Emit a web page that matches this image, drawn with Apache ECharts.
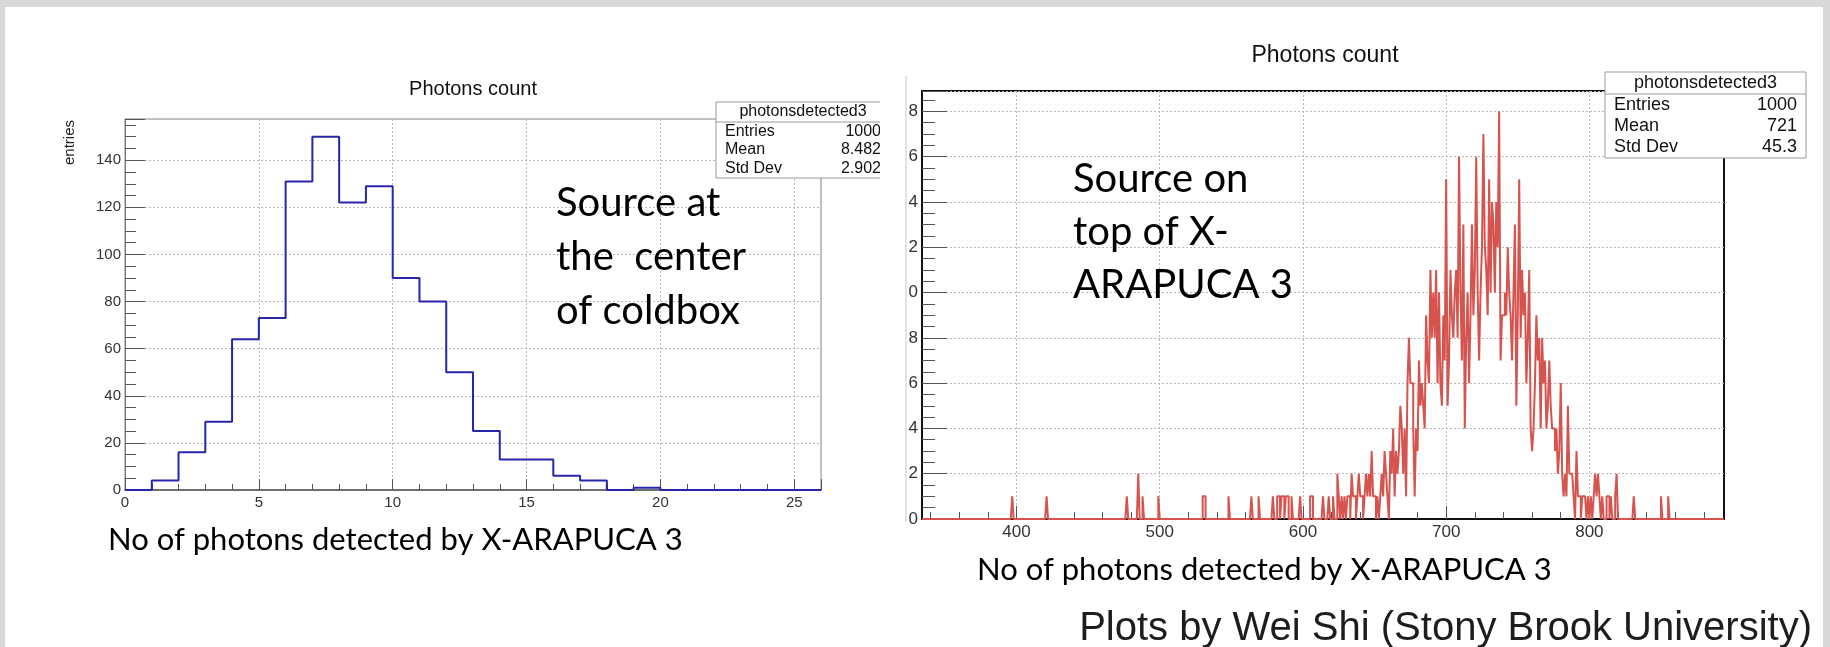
<!DOCTYPE html>
<html>
<head>
<meta charset="utf-8">
<title>Photons count</title>
<script src="https://cdn.jsdelivr.net/npm/echarts@6.0.0/dist/echarts.min.js"></script>
<style>
  html, body { margin: 0; padding: 0; background: #fff; }
  #chart { width: 1830px; height: 647px; }
</style>
</head>
<body>
<div id="chart"></div>
<script>
// left plot: source at the centre of the coldbox, bins of width 1 from 0 to 26
const leftStart = 0;
const leftCounts = [0, 4, 16, 29, 64, 73, 131, 150, 122, 129, 90, 80, 50, 25, 13, 13, 6, 4, 0, 1, 0, 0, 0, 0, 0, 0];
const leftStats = [["Entries", "1000"], ["Mean", "8.482"], ["Std Dev", "2.902"]];

// right plot: source on top of X-ARAPUCA 3, bins of width 1 from 334 to 894
const rightStart = 334;
const rightBins = 560;
const rightCoreStart = 619;
const rightCoreCounts = [
  0, 0, 1, 0, 0, 2, 1, 0, 1, 0,
  1, 0, 1, 1, 0, 2, 1, 1, 0, 1,
  2, 1, 1, 0, 1, 2, 1, 2, 1, 3,
  1, 1, 0, 1, 0, 1, 2, 1, 3, 2,
  1, 0, 3, 2, 4, 1, 3, 2, 3, 5,
  4, 2, 4, 1, 6, 8, 6, 6, 4, 1,
  4, 3, 7, 5, 6, 5, 4, 9, 7, 6,
  11, 8, 10, 8, 11, 6, 10, 6, 5, 9,
  7, 15, 5, 7, 11, 9, 8, 10, 11, 8,
  16, 10, 7, 13, 4, 8, 10, 6, 9, 13,
  9, 11, 16, 10, 7, 10, 12, 17, 12, 11,
  9, 15, 10, 14, 13, 10, 14, 12, 18, 7,
  9, 9, 10, 9, 12, 10, 9, 7, 10, 13,
  5, 9, 15, 8, 11, 9, 10, 6, 8, 11,
  4, 3, 4, 6, 9, 7, 8, 4, 8, 6,
  7, 4, 5, 7, 5, 4, 4, 3, 4, 2,
  3, 6, 2, 1, 2, 1, 5, 2, 2, 2,
  1, 0, 3, 1, 1, 0, 1, 1, 1, 0,
  1, 0, 1, 0, 1, 2, 1, 2, 1, 0,
  1, 0, 0, 1, 1, 0, 1, 0, 0, 1,
  2
];
const rightTailBins = [397, 421, 477, 485, 488, 499, 530, 531, 548, 564, 569, 579, 582, 583, 585, 586, 588, 589, 592, 598, 605, 606, 614, 618, 831, 850, 855];
const rightTailCounts = [1, 1, 1, 2, 1, 1, 1, 1, 1, 1, 1, 1, 1, 1, 1, 1, 1, 1, 1, 1, 1, 1, 1, 1, 1, 1, 1];
const rightStats = [["Entries", "1000"], ["Mean", "721"], ["Std Dev", "45.3"]];

// tick ranges of the right x axis (the axis itself starts at 334)
const rightMinorRange = [340, 880];
const rightMajorRange = [400, 800];

const rootFont = "'Liberation Sans', Arial, sans-serif";
const noteFont = "Lato, 'Open Sans', sans-serif";

// full list of bin contents for the right histogram
const rightCounts = new Array(rightBins).fill(0);
rightCoreCounts.forEach((c, i) => { rightCounts[rightCoreStart - rightStart + i] = c; });
rightTailBins.forEach((b, i) => { rightCounts[b - rightStart] = rightTailCounts[i]; });

// ROOT style outline: one point per left bin edge, plus the closing right edge
function stepData(start, counts) {
  const pts = counts.map((c, i) => [start + i, c]);
  pts.push([start + counts.length, counts[counts.length - 1]]);
  return pts;
}

// right frame in pixels
const rLeft = 922, rTop = 91, rWidth = 802, rHeight = 428;
const rScale = rWidth / rightBins;
// a helper grid whose axis covers [a, b] exactly where the main axis has it
function subGrid(range) {
  return { left: rLeft + (range[0] - rightStart) * rScale, top: rTop, width: (range[1] - range[0]) * rScale, height: rHeight, show: false };
}

function statBox(x, y, w, h, headH, size, rows) {
  const els = [
    { type: "rect", shape: { x: x, y: y, width: w, height: h }, style: { fill: "#fff", stroke: "#999", lineWidth: 1 }, z: 50 },
    { type: "line", shape: { x1: x, y1: y + headH, x2: x + w, y2: y + headH }, style: { stroke: "#999", lineWidth: 1 }, z: 51 },
    { type: "text", x: x + w / 2, y: y + headH / 2, z: 52,
      style: { text: "photonsdetected3", font: size + "px " + rootFont, fill: "#111", align: "center", verticalAlign: "middle" } }
  ];
  const rowH = (h - headH) / rows.length;
  rows.forEach((r, i) => {
    const cy = y + headH + rowH * (i + 0.5);
    els.push({ type: "text", x: x + 9, y: cy, z: 52,
      style: { text: r[0], font: size + "px " + rootFont, fill: "#111", align: "left", verticalAlign: "middle" } });
    els.push({ type: "text", x: x + w - 9, y: cy, z: 52,
      style: { text: r[1], font: size + "px " + rootFont, fill: "#111", align: "right", verticalAlign: "middle" } });
  });
  return els;
}

function note(x, y, lines, size, gap) {
  return lines.map((t, i) => ({
    type: "text", x: x, y: y + i * gap, z: 40,
    style: { text: t, font: size + "px " + noteFont, fill: "#000", align: "left", verticalAlign: "middle" }
  }));
}

let myChart = echarts.init(document.getElementById("chart"));

const tickColor = "#555";
const gridLine = { show: true, lineStyle: { type: [2, 2], color: "#b8b8b8", width: 1 } };
const off = { show: false };

myChart.setOption({
  animation: false,
  backgroundColor: "#fff",
  grid: [
    { left: 125, top: 119, width: 696, height: 371, show: true, borderColor: "#888", borderWidth: 1 },
    { left: rLeft, top: rTop, width: rWidth, height: rHeight, show: true, borderColor: "#111", borderWidth: 2 },
    subGrid(rightMinorRange),
    subGrid(rightMajorRange)
  ],
  xAxis: [
    {
      type: "value", gridIndex: 0, min: 0, max: 26, interval: 5,
      axisLine: { show: true, onZero: false, lineStyle: { color: "#555", width: 1.5 } },
      axisTick: { show: true, inside: true, length: 11, lineStyle: { color: tickColor } },
      minorTick: { show: true, splitNumber: 5, length: 6, lineStyle: { color: tickColor } },
      axisLabel: { fontSize: 15, fontFamily: rootFont, color: "#333", margin: 5, showMaxLabel: false },
      splitLine: gridLine
    },
    {
      type: "value", gridIndex: 1, min: rightStart, max: rightStart + rightBins,
      axisLine: { show: true, onZero: false, lineStyle: { color: "#111", width: 2 } },
      axisTick: off, minorTick: off, axisLabel: off, splitLine: off
    },
    {
      type: "value", gridIndex: 2, min: rightMinorRange[0], max: rightMinorRange[1], interval: 20,
      axisLine: off,
      axisTick: { show: true, inside: true, length: 7, lineStyle: { color: tickColor } },
      axisLabel: off, splitLine: off
    },
    {
      type: "value", gridIndex: 3, min: rightMajorRange[0], max: rightMajorRange[1], interval: 100,
      axisLine: off,
      axisTick: { show: true, inside: true, length: 13, lineStyle: { color: tickColor } },
      axisLabel: { fontSize: 17, fontFamily: rootFont, color: "#333", margin: 5 },
      splitLine: gridLine
    }
  ],
  yAxis: [
    {
      type: "value", gridIndex: 0, min: 0, max: 157.5, interval: 20,
      axisLine: { show: true, lineStyle: { color: "#777" } },
      axisTick: { show: true, inside: true, length: 20, lineStyle: { color: tickColor } },
      minorTick: { show: true, splitNumber: 4, length: 11, lineStyle: { color: tickColor } },
      axisLabel: { fontSize: 15, fontFamily: rootFont, color: "#333", margin: 4, showMaxLabel: false },
      splitLine: gridLine
    },
    {
      type: "value", gridIndex: 1, min: 0, max: 18.9, interval: 2,
      axisLine: { show: true, lineStyle: { color: "#111", width: 2 } },
      axisTick: { show: true, inside: true, length: 25, lineStyle: { color: tickColor } },
      minorTick: { show: true, splitNumber: 4, length: 13, lineStyle: { color: tickColor } },
      axisLabel: {
        fontSize: 17, fontFamily: rootFont, color: "#333", margin: 4, showMaxLabel: false,
        // the screenshot cuts off the tens digit of these labels
        formatter: (v) => String(Math.round(v) % 10)
      },
      splitLine: gridLine
    },
    { type: "value", gridIndex: 2, min: 0, max: 1, show: false },
    { type: "value", gridIndex: 3, min: 0, max: 1, show: false }
  ],
  series: [
    {
      type: "line", xAxisIndex: 0, yAxisIndex: 0, step: "end",
      data: stepData(leftStart, leftCounts),
      symbol: "none", lineStyle: { color: "#2626ac", width: 2 }
    },
    {
      type: "line", xAxisIndex: 1, yAxisIndex: 1, step: "end",
      data: stepData(rightStart, rightCounts),
      symbol: "none", lineStyle: { color: "#d6534e", width: 2 }
    }
  ],
  graphic: [
    // grey margins of the slide
    { type: "rect", shape: { x: 0, y: 0, width: 1830, height: 7 }, style: { fill: "#d9d9d9" }, z: 60 },
    { type: "rect", shape: { x: 0, y: 0, width: 5, height: 647 }, style: { fill: "#d9d9d9" }, z: 60 },
    { type: "rect", shape: { x: 1823, y: 0, width: 7, height: 647 }, style: { fill: "#d9d9d9" }, z: 60 },
    // edge of the pasted right-hand screenshot
    { type: "line", shape: { x1: 906, y1: 76, x2: 906, y2: 522 }, style: { stroke: "#c8c8c8", lineWidth: 1 }, z: 60 },
    { type: "rect", shape: { x: 880, y: 90, width: 26, height: 440 }, style: { fill: "#fff" }, z: 59 },

    { type: "text", x: 473, y: 89, style: { text: "Photons count", font: "20px " + rootFont, fill: "#111", align: "center", verticalAlign: "middle" } },
    { type: "text", x: 1325, y: 56, style: { text: "Photons count", font: "23px " + rootFont, fill: "#111", align: "center", verticalAlign: "middle" } },
    { type: "text", x: 70, y: 120, rotation: Math.PI / 2,
      style: { text: "entries", font: "15px " + rootFont, fill: "#222", align: "right", verticalAlign: "middle" } },

    ...statBox(716, 102, 174, 76, 20, 16, leftStats),
    ...statBox(1605, 72, 201, 86, 22, 18, rightStats),

    ...note(556, 203, ["Source at", "the  center", "of coldbox"], 40, 54),
    ...note(1073, 179, ["Source on", "top of X-", "ARAPUCA 3"], 40, 53),

    { type: "text", x: 108, y: 540, style: { text: "No of photons detected by X-ARAPUCA 3", font: "31px " + noteFont, fill: "#000", align: "left", verticalAlign: "middle" } },
    { type: "text", x: 977, y: 570, style: { text: "No of photons detected by X-ARAPUCA 3", font: "31px " + noteFont, fill: "#000", align: "left", verticalAlign: "middle" } },

    { type: "text", x: 1812, y: 629, style: { text: "Plots by Wei Shi (Stony Brook University)", font: "40px " + rootFont, fill: "#1d1d1d", align: "right", verticalAlign: "middle" } }
  ]
});

window.onresize = function () {
  myChart.resize();
};
</script>
</body>
</html>
